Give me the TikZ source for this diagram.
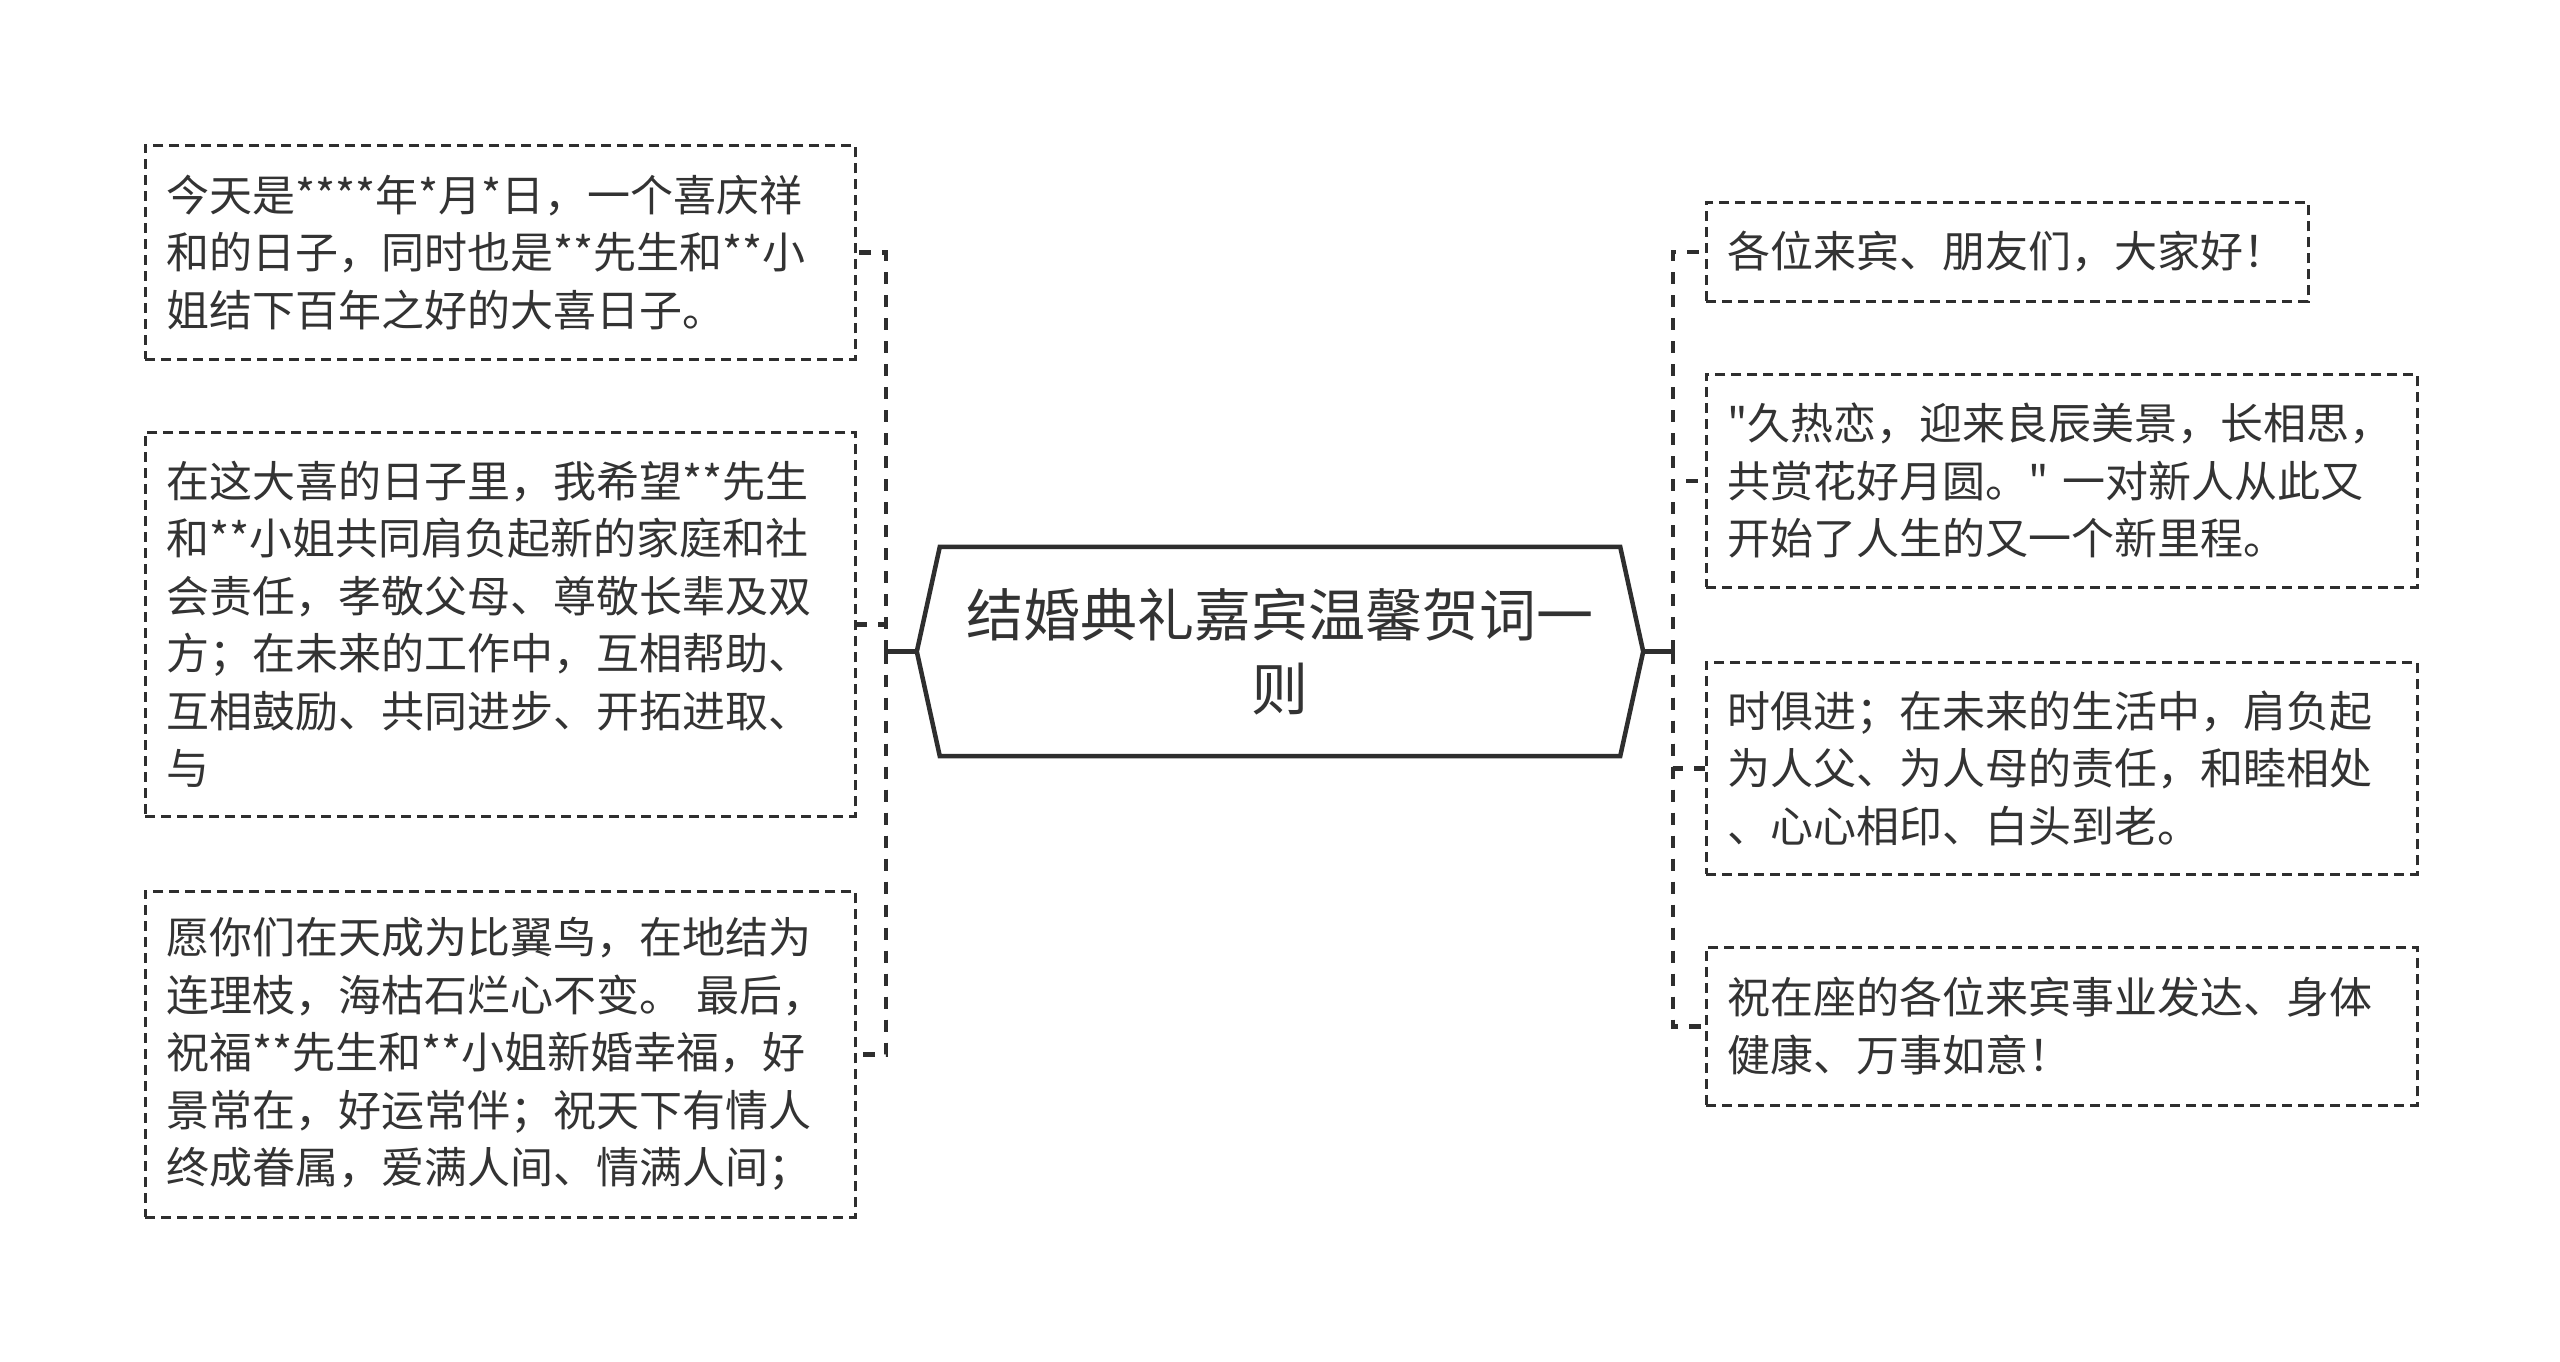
\documentclass[tikz,border=0pt]{standalone}
\usepackage{fontspec}
\setmainfont{Noto Sans CJK SC}[Ligatures=TeXOff]
\usepackage{xcolor}
\usepackage{tikz}
\usetikzlibrary{arrows.meta, positioning, calc}

\definecolor{linecol}{HTML}{2E2E2E}
\definecolor{textcol}{HTML}{333333}

\tikzset{
  leafbox/.style={draw=linecol, line width=2.5pt, dash pattern=on 10pt off 6pt,
    text=textcol, font={\fontsize{43}{57.5}\selectfont}, align=left,
    inner xsep=21pt, inner ysep=0pt, anchor=north west},
  link/.style={draw=linecol, line width=4.5pt, dash pattern=on 12pt off 11pt},
  hub/.style={draw=linecol, line width=4.5pt},
  rootline/.style={draw=linecol, line width=4.5pt, line join=miter}
}

\begin{document}
\begin{tikzpicture}[x=1pt, y=-1pt]
    \useasboundingbox[fill=white] (0, 0) rectangle (2560, 1361);

    % 中心主题
    \node[text=textcol, font={\fontsize{57}{74}\selectfont}, align=center,
          minimum width=726pt, minimum height=209pt, inner sep=0pt] (root) at (1280, 651.5)
          {结婚典礼嘉宾温馨贺词一\\则};
    \draw[rootline] (root.west) -- ($(root.north west)+(23, 0)$) -- ($(root.north east)+(-23, 0)$)
        -- (root.east) -- ($(root.south east)+(-23, 0)$) -- ($(root.south west)+(23, 0)$) -- cycle;

    % 左侧分支
    \node[leafbox, text width=668pt, minimum height=214pt] (L1) at (144, 144)
        {今天是****年*月*日，一个喜庆祥\\和的日子，同时也是**先生和**小\\姐结下百年之好的大喜日子。};
    \node[leafbox, text width=668pt, minimum height=384pt] (L2) at (144, 431)
        {在这大喜的日子里，我希望**先生\\和**小姐共同肩负起新的家庭和社\\会责任，孝敬父母、尊敬长辈及双\\方；在未来的工作中，互相帮助、\\互相鼓励、共同进步、开拓进取、\\与};
    \node[leafbox, text width=668pt, minimum height=326pt] (L3) at (144, 890)
        {愿你们在天成为比翼鸟，在地结为\\连理枝，海枯石烂心不变。 最后，\\祝福**先生和**小姐新婚幸福，好\\景常在，好运常伴；祝天下有情人\\终成眷属，爱满人间、情满人间；};

    % 右侧分支
    \node[leafbox, text width=560pt, minimum height=99pt] (R1) at (1705, 201)
        {各位来宾、朋友们，大家好！};
    \node[leafbox, text width=669pt, minimum height=213pt] (R2) at (1705, 373)
        {"久热恋，迎来良辰美景，长相思，\\共赏花好月圆。" 一对新人从此又\\开始了人生的又一个新里程。};
    \node[leafbox, text width=669pt, minimum height=212pt] (R3) at (1705, 661)
        {时俱进；在未来的生活中，肩负起\\为人父、为人母的责任，和睦相处\\、心心相印、白头到老。};
    \node[leafbox, text width=669pt, minimum height=158pt] (R4) at (1705, 946)
        {祝在座的各位来宾事业发达、身体\\健康、万事如意！};

    % 连线
    \coordinate (hubL) at ($(root.west)+(-31, 0)$);
    \coordinate (hubR) at ($(root.east)+(30, 0)$);
    \draw[hub] (root.west) -- (hubL);
    \draw[hub] (root.east) -- (hubR);
    \foreach \n in {L1, L2, L3}
        \draw[link] (hubL) |- (\n.east);
    \foreach \n in {R1, R2, R3, R4}
        \draw[link] (hubR) |- (\n.west);
\end{tikzpicture}
\end{document}
